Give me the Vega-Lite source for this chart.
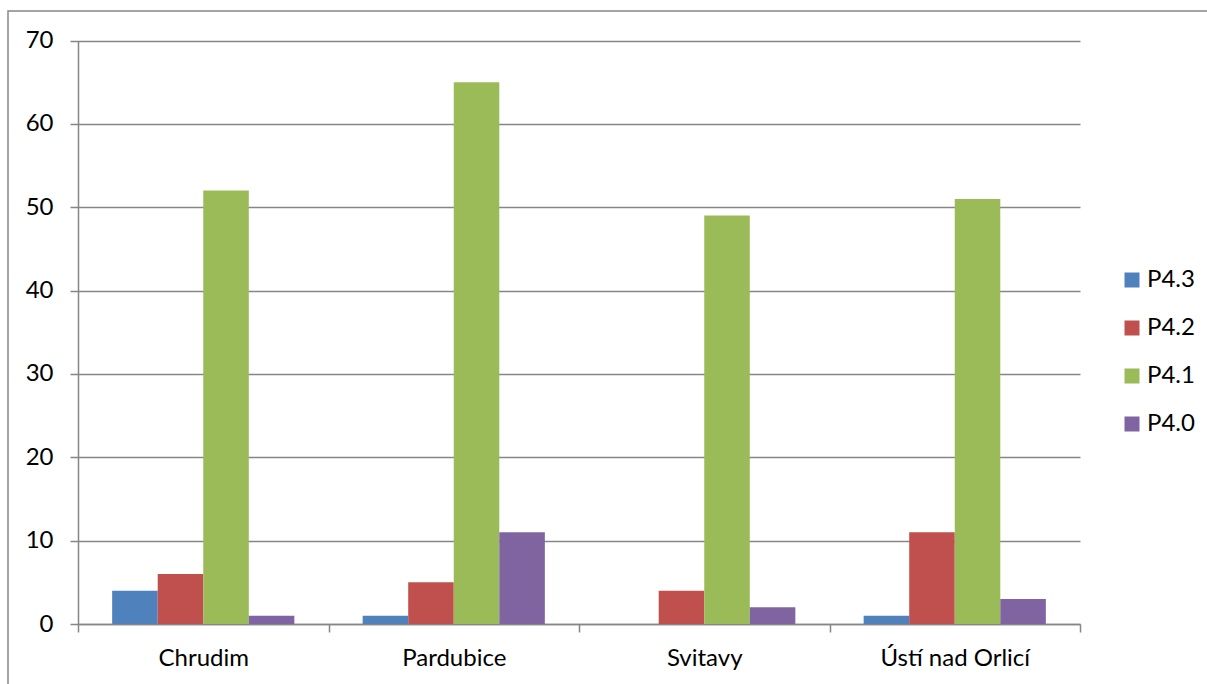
{
  "$schema": "https://vega.github.io/schema/vega-lite/v6.json",
  "autosize": {"type": "none"},
  "padding": {"left": 8, "top": 11, "right": 0, "bottom": 0},
  "width": 1201,
  "height": 675,
  "background": "white",
  "data": {
    "values": [
      {"okres": "Chrudim", "kategorie": "P4.3", "pocet": 4},
      {"okres": "Chrudim", "kategorie": "P4.2", "pocet": 6},
      {"okres": "Chrudim", "kategorie": "P4.1", "pocet": 52},
      {"okres": "Chrudim", "kategorie": "P4.0", "pocet": 1},
      {"okres": "Pardubice", "kategorie": "P4.3", "pocet": 1},
      {"okres": "Pardubice", "kategorie": "P4.2", "pocet": 5},
      {"okres": "Pardubice", "kategorie": "P4.1", "pocet": 65},
      {"okres": "Pardubice", "kategorie": "P4.0", "pocet": 11},
      {"okres": "Svitavy", "kategorie": "P4.3", "pocet": 0},
      {"okres": "Svitavy", "kategorie": "P4.2", "pocet": 4},
      {"okres": "Svitavy", "kategorie": "P4.1", "pocet": 49},
      {"okres": "Svitavy", "kategorie": "P4.0", "pocet": 2},
      {"okres": "Ústí nad Orlicí", "kategorie": "P4.3", "pocet": 1},
      {"okres": "Ústí nad Orlicí", "kategorie": "P4.2", "pocet": 11},
      {"okres": "Ústí nad Orlicí", "kategorie": "P4.1", "pocet": 51},
      {"okres": "Ústí nad Orlicí", "kategorie": "P4.0", "pocet": 3}
    ]
  },
  "mark": {"type": "bar"},
  "encoding": {
    "x": {
      "field": "okres",
      "type": "nominal",
      "sort": ["Chrudim", "Pardubice", "Svitavy", "Ústí nad Orlicí"],
      "scale": {"range": [70, 1072], "paddingInner": 0, "paddingOuter": 0},
      "axis": {
        "title": null,
        "orient": "bottom",
        "offset": -62,
        "labelAngle": 0,
        "tickBand": "extent",
        "tickSize": 8,
        "tickColor": "#868686",
        "tickWidth": 1.5,
        "domainColor": "#868686",
        "domainWidth": 1.5,
        "labelPadding": 14,
        "grid": false
      }
    },
    "xOffset": {
      "field": "kategorie",
      "type": "nominal",
      "sort": ["P4.3", "P4.2", "P4.1", "P4.0"],
      "scale": {"paddingInner": 0, "paddingOuter": 0.75}
    },
    "y": {
      "field": "pocet",
      "type": "quantitative",
      "scale": {"domain": [0, 70], "range": [613, 29.5], "nice": false},
      "axis": {
        "title": null,
        "orient": "left",
        "offset": -70,
        "values": [0, 10, 20, 30, 40, 50, 60, 70],
        "tickSize": 8,
        "tickColor": "#868686",
        "tickWidth": 1.5,
        "domain": true,
        "domainColor": "#868686",
        "domainWidth": 1.5,
        "grid": true,
        "gridColor": "#868686",
        "gridWidth": 1.5,
        "labelPadding": 17
      }
    },
    "color": {
      "field": "kategorie",
      "type": "nominal",
      "sort": ["P4.3", "P4.2", "P4.1", "P4.0"],
      "scale": {
        "domain": ["P4.3", "P4.2", "P4.1", "P4.0"],
        "range": ["#4F81BD", "#C0504D", "#9BBB59", "#8064A2"]
      },
      "legend": {
        "title": null,
        "orient": "none",
        "legendX": 1112,
        "legendY": 257,
        "symbolType": "square",
        "symbolSize": 225,
        "symbolStrokeWidth": 0,
        "symbolOpacity": 1,
        "labelOffset": 3,
        "rowPadding": 24,
        "padding": 0
      }
    }
  },
  "config": {
    "font": "Lato",
    "view": {"stroke": "#868686", "strokeWidth": 1.5},
    "axis": {"labelFont": "Lato", "labelFontSize": 24, "labelColor": "#000000"},
    "legend": {"labelFont": "Lato", "labelFontSize": 24, "labelColor": "#000000"}
  }
}
